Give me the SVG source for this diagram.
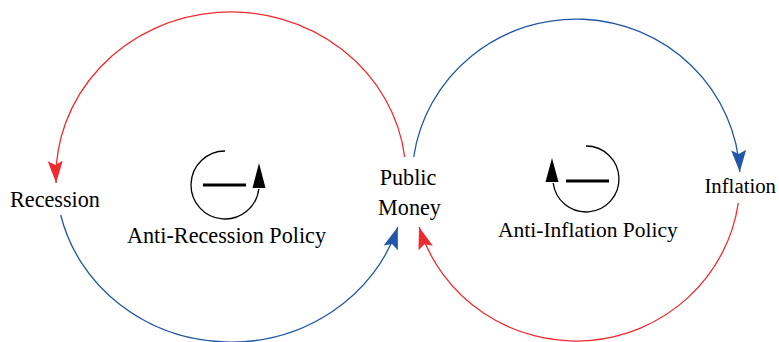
<svg xmlns="http://www.w3.org/2000/svg" width="779" height="342" viewBox="0 0 779 342">
<style>
.lbl{font-family:"Liberation Serif","Times New Roman",serif;font-size:22.2px;fill:#000}
.red{fill:none;stroke:#EE2B2F;stroke-width:1.3}
.blue{fill:none;stroke:#2256A8;stroke-width:1.3}
.icon{fill:none;stroke:#000;stroke-width:1.3}
.bar{stroke:#000;stroke-width:3}
</style>
<defs>
<marker id="ah-red" markerUnits="userSpaceOnUse" orient="auto" refX="0" refY="0" markerWidth="30" markerHeight="20" overflow="visible">
<path d="M0,0 L-22,-7.5 L-18,0 L-22,7.5 Z" fill="#EE2B2F"/>
</marker>
<marker id="ah-blue" markerUnits="userSpaceOnUse" orient="auto" refX="0" refY="0" markerWidth="30" markerHeight="20" overflow="visible">
<path d="M0,0 L-22,-7.5 L-18,0 L-22,7.5 Z" fill="#2256A8"/>
</marker>
</defs>
<g id="connectors">
<path class="red" d="M404.7,157 A175,165 0 0 0 56.1,183" marker-end="url(#ah-red)"/>
<path class="blue" d="M60.7,215 A175,165 0 0 0 397.8,227" marker-end="url(#ah-blue)"/>
<path class="blue" d="M413.7,157 A164,161 0 0 1 739.8,172" marker-end="url(#ah-blue)"/>
<path class="red" d="M738.3,203 A164,161 0 0 1 419.1,227" marker-end="url(#ah-red)"/>
</g>
<g id="recession"><text class="lbl" x="10" y="207">Recession</text></g>
<g id="public-money">
<text class="lbl" x="408" y="185" text-anchor="middle">Public</text>
<text class="lbl" x="409.5" y="215" text-anchor="middle">Money</text>
</g>
<g id="inflation"><text class="lbl" x="776" y="193" text-anchor="end" style="font-size:20.8px">Inflation</text></g>
<g id="loop-anti-recession">
<path class="icon" d="M225,151 A34,34 0 1 0 258.8,189"/>
<polygon points="259,163 252.5,188 265.5,188" fill="#000"/>
<line class="bar" x1="203" y1="185" x2="246" y2="185"/>
<text class="lbl" x="127" y="243">Anti-Recession Policy</text>
</g>
<g id="loop-anti-inflation">
<path class="icon" d="M586,146 A33,33 0 1 1 553.2,183"/>
<polygon points="552,158 545.5,182 558.5,182" fill="#000"/>
<line class="bar" x1="566" y1="181" x2="609" y2="181"/>
<text class="lbl" x="498" y="237" style="font-size:21.5px">Anti-Inflation Policy</text>
</g>
</svg>
